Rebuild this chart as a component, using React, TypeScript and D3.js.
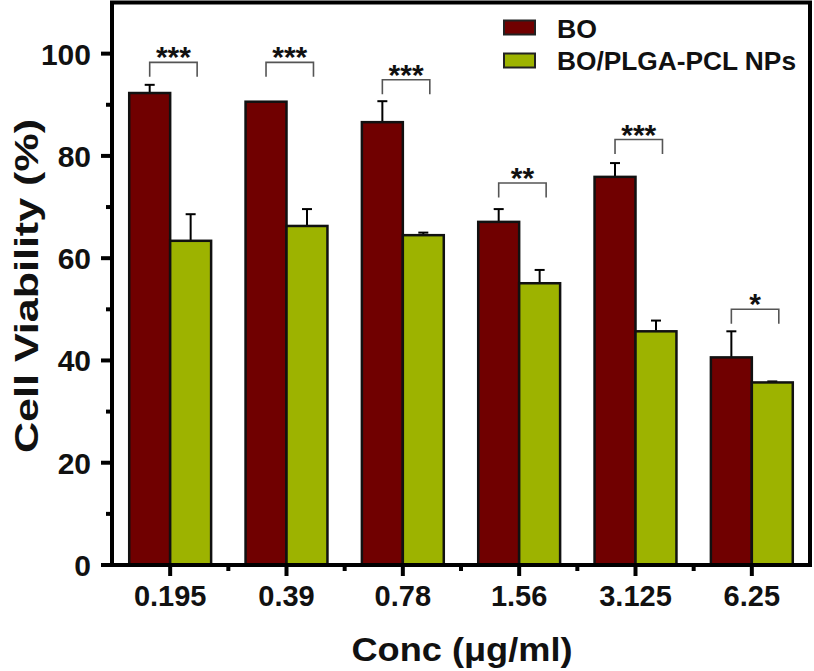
import React from "react";
import * as d3 from "d3";

const categories = ["0.195", "0.39", "0.78", "1.56", "3.125", "6.25"];
const boValues = [92.3, 90.6, 86.6, 67.1, 75.9, 40.6];
const boErrors = [1.6, 0, 4.1, 2.5, 2.7, 5.1];
const npValues = [63.4, 66.3, 64.5, 55.1, 45.7, 35.7];
const npErrors = [5.2, 3.3, 0.5, 2.6, 2.1, 0.2];
const sigLabels = ["***", "***", "***", "**", "***", "*"];
const sigLevels = [98.3, 98.3, 94.9, 74.7, 83.2, 50.0];
const yTicks = [0, 20, 40, 60, 80, 100];
const yMinorTicks = [10, 30, 50, 70, 90];
const seriesNames = ["BO", "BO/PLGA-PCL NPs"];
const seriesColors = ["#700000", "#9db300"];

const W = 814;
const H = 671;
const left = 112;
const right = 810;
const top = 2.5;
const bottom = 565;
const FONT = "'Liberation Sans', Arial, sans-serif";

export default function App() {
  const x = d3.scaleBand<string>().domain(categories).range([left, right]).padding(0);
  const y = d3.scaleLinear().domain([0, 110]).range([bottom, top]);
  const step = x.step();
  const barW = step * 0.352;
  const center = (c: string) => (x(c) as number) + step / 2;

  const series = [
    { values: boValues, errors: boErrors, offset: -barW },
    { values: npValues, errors: npErrors, offset: 0 },
  ];

  return (
    <svg width={W} height={H} style={{ position: "absolute", left: 0, top: 0 }} fontFamily={FONT}>
      <rect width={W} height={H} fill="#fff" />
      {/* bars */}
      {series.map((s, si) =>
        categories.map((c, i) => {
          const bx = center(c) + s.offset;
          const v = s.values[i];
          const e = s.errors[i];
          const cx = bx + barW / 2;
          return (
            <g key={`b${si}-${i}`}>
              {e > 0 && (
                <g stroke="#000" strokeWidth={2}>
                  <line x1={cx} x2={cx} y1={y(v)} y2={y(v + e)} />
                  <line x1={cx - 5} x2={cx + 5} y1={y(v + e)} y2={y(v + e)} />
                </g>
              )}
              <rect
                x={bx}
                y={y(v)}
                width={barW}
                height={y(0) - y(v)}
                fill={seriesColors[si]}
                stroke="#111"
                strokeWidth={2.5}
              />
            </g>
          );
        })
      )}
      {/* significance brackets */}
      {categories.map((c, i) => {
        const x0 = center(c) - barW / 2;
        const x1 = center(c) + barW / 2 + 6.5;
        const yy = y(sigLevels[i]);
        return (
          <g key={`s${i}`}>
            <path
              d={`M${x0},${yy + 14.5}V${yy}H${x1}V${yy + 14.5}`}
              fill="none"
              stroke="#555"
              strokeWidth={1.6}
            />
            <text x={(x0 + x1) / 2} y={yy + 5} textAnchor="middle" fontSize={30} fontWeight="bold" fill="#111">
              {sigLabels[i]}
            </text>
          </g>
        );
      })}
      {/* frame */}
      <g stroke="#000" strokeWidth={4} fill="none">
        <line x1={left} x2={left} y1={top} y2={bottom + 2} />
        <line x1={left - 2} x2={right} y1={bottom} y2={bottom} />
        <line x1={left - 2} x2={right + 2} y1={top} y2={top} />
        <line x1={right} x2={right} y1={top} y2={bottom + 2} />
      </g>
      {/* y ticks */}
      {yTicks.map((t) => (
        <g key={`yt${t}`}>
          <line x1={left - 11} x2={left} y1={y(t)} y2={y(t)} stroke="#000" strokeWidth={4} />
          <text x={91} y={y(t) + 11} textAnchor="end" fontSize={30} fontWeight="bold" fill="#111">
            {t}
          </text>
        </g>
      ))}
      {yMinorTicks.map((t) => (
        <line key={`ym${t}`} x1={left - 6} x2={left} y1={y(t)} y2={y(t)} stroke="#000" strokeWidth={4} />
      ))}
      {/* x ticks */}
      {categories.map((c) => (
        <g key={`xt${c}`}>
          <line x1={center(c)} x2={center(c)} y1={bottom} y2={bottom + 11} stroke="#000" strokeWidth={4} />
          <text x={center(c)} y={606} textAnchor="middle" fontSize={29} fontWeight="bold" fill="#111">
            {c}
          </text>
        </g>
      ))}
      {categories.slice(1).map((c) => (
        <line key={`xm${c}`} x1={x(c) as number} x2={x(c) as number} y1={bottom} y2={bottom + 6} stroke="#000" strokeWidth={4} />
      ))}
      {/* axis titles */}
      <text x={462} y={661} textAnchor="middle" fontSize={33} fontWeight="bold" fill="#111" textLength={221} lengthAdjust="spacingAndGlyphs">
        Conc (μg/ml)
      </text>
      <text
        transform={`translate(38,286) rotate(-90)`}
        textAnchor="middle"
        fontSize={34}
        fontWeight="bold"
        fill="#111"
        textLength={334}
        lengthAdjust="spacingAndGlyphs"
      >
        Cell Viability (%)
      </text>
      {/* legend */}
      {seriesNames.map((n, i) => (
        <g key={`lg${i}`}>
          <rect x={504} y={20.5 + i * 33} width={31} height={14} fill={seriesColors[i]} stroke="#222" strokeWidth={2} />
          <text x={557} y={37.5 + i * 32} fontSize={25} fontWeight="bold" fill="#111" textLength={n.length > 2 ? 239 : 40} lengthAdjust="spacingAndGlyphs">
            {n}
          </text>
        </g>
      ))}
    </svg>
  );
}
